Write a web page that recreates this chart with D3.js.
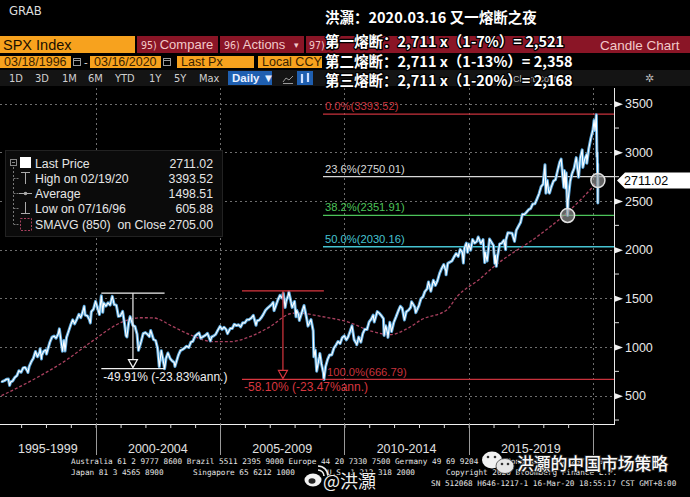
<!DOCTYPE html>
<html><head><meta charset="utf-8">
<script src="https://cdn.jsdelivr.net/npm/d3@7"></script>
<style>
html,body{margin:0;padding:0;background:#000;overflow:hidden;}
svg{display:block;font-family:"Liberation Sans",Arial,sans-serif;}
</style></head><body>
<svg id="c" width="690" height="497"></svg>
<script>
// ---------------- DATA ----------------
const spx = [
["1996-03-18",652.7],["1996-03-29",645.5],["1996-04-30",654.2],["1996-05-31",669.1],["1996-06-28",670.6],["1996-07-16",605.9],["1996-07-31",639.9],["1996-08-30",652.0],["1996-09-30",687.3],["1996-10-31",705.3],["1996-11-29",757.0],["1996-12-31",740.7],
["1997-01-31",786.2],["1997-02-28",790.8],["1997-03-31",757.1],["1997-04-11",737.7],["1997-04-30",801.3],["1997-05-30",848.3],["1997-06-30",885.1],["1997-07-31",954.3],["1997-08-29",899.5],["1997-09-30",947.3],["1997-10-07",983.1],["1997-10-27",877.0],["1997-10-31",914.6],["1997-11-28",955.4],["1997-12-31",970.4],
["1998-01-09",927.7],["1998-01-30",980.3],["1998-02-27",1049.3],["1998-03-31",1101.8],["1998-04-30",1111.8],["1998-05-29",1090.8],["1998-06-30",1133.8],["1998-07-17",1186.8],["1998-08-31",957.3],["1998-09-23",1066.1],["1998-10-08",959.4],["1998-10-30",1098.7],["1998-11-30",1163.6],["1998-12-31",1229.2],
["1999-01-29",1279.6],["1999-02-26",1238.3],["1999-03-31",1286.4],["1999-04-30",1335.2],["1999-05-28",1301.8],["1999-06-30",1372.7],["1999-07-16",1418.8],["1999-07-30",1328.7],["1999-08-31",1320.4],["1999-09-30",1282.7],["1999-10-15",1247.4],["1999-10-29",1362.9],["1999-11-30",1389.0],["1999-12-31",1469.3],
["2000-01-31",1394.5],["2000-02-25",1333.4],["2000-03-24",1527.5],["2000-04-14",1356.6],["2000-04-28",1452.4],["2000-05-31",1420.6],["2000-06-30",1454.6],["2000-07-31",1430.8],["2000-09-01",1520.8],["2000-09-29",1436.5],["2000-10-31",1429.4],["2000-11-30",1315.2],["2000-12-29",1320.3],
["2001-01-31",1366.0],["2001-02-28",1239.9],["2001-03-22",1117.6],["2001-04-04",1103.3],["2001-04-30",1249.5],["2001-05-21",1312.8],["2001-06-29",1224.4],["2001-07-31",1211.2],["2001-08-31",1133.6],["2001-09-21",965.8],["2001-10-31",1059.8],["2001-11-30",1139.5],["2001-12-31",1148.1],
["2002-01-31",1130.2],["2002-02-28",1106.7],["2002-03-19",1170.3],["2002-04-30",1076.9],["2002-05-31",1067.1],["2002-06-28",989.8],["2002-07-23",797.7],["2002-08-22",962.7],["2002-09-30",815.3],["2002-10-09",776.8],["2002-10-31",885.8],["2002-11-27",938.9],["2002-12-31",879.8],
["2003-01-31",855.7],["2003-02-28",841.2],["2003-03-11",800.7],["2003-03-31",848.2],["2003-04-30",916.9],["2003-05-30",963.6],["2003-06-30",974.5],["2003-07-31",990.3],["2003-08-29",1008.0],["2003-09-30",996.0],["2003-10-31",1050.7],["2003-11-28",1058.2],["2003-12-31",1111.9],
["2004-01-30",1131.1],["2004-02-27",1144.9],["2004-03-24",1091.3],["2004-04-30",1107.3],["2004-05-31",1120.7],["2004-06-30",1140.8],["2004-08-12",1063.2],["2004-08-31",1104.2],["2004-09-30",1114.6],["2004-10-29",1130.2],["2004-11-30",1173.8],["2004-12-31",1211.9],
["2005-01-31",1181.3],["2005-02-28",1203.6],["2005-03-31",1180.6],["2005-04-20",1137.5],["2005-05-31",1191.5],["2005-06-30",1191.3],["2005-07-29",1234.2],["2005-08-31",1220.3],["2005-09-30",1228.8],["2005-10-31",1207.0],["2005-11-30",1249.5],["2005-12-30",1248.3],
["2006-01-31",1280.1],["2006-02-28",1280.7],["2006-03-31",1294.9],["2006-05-05",1325.8],["2006-06-13",1223.7],["2006-06-30",1270.2],["2006-07-31",1276.7],["2006-08-31",1303.8],["2006-09-29",1335.9],["2006-10-31",1377.9],["2006-11-30",1400.6],["2006-12-29",1418.3],
["2007-01-31",1438.2],["2007-02-20",1459.7],["2007-03-05",1374.1],["2007-03-30",1420.9],["2007-04-30",1482.4],["2007-05-31",1530.6],["2007-06-29",1503.4],["2007-07-19",1553.1],["2007-08-15",1406.7],["2007-08-31",1474.0],["2007-09-28",1526.8],["2007-10-09",1565.2],["2007-11-26",1407.2],["2007-12-31",1468.4],
["2008-01-22",1310.5],["2008-01-31",1378.6],["2008-02-29",1330.6],["2008-03-10",1273.4],["2008-04-30",1385.6],["2008-05-19",1426.6],["2008-06-30",1280.0],["2008-07-15",1214.9],["2008-08-29",1282.8],["2008-09-30",1166.4],["2008-10-10",899.2],["2008-10-31",968.8],["2008-11-20",752.4],["2008-12-31",903.3],
["2009-01-06",934.7],["2009-01-30",825.9],["2009-02-27",735.1],["2009-03-06",666.8],["2009-03-31",797.9],["2009-04-30",872.8],["2009-05-29",919.1],["2009-06-30",919.3],["2009-07-31",987.5],["2009-08-31",1020.6],["2009-09-30",1057.1],["2009-10-30",1036.2],["2009-11-30",1095.6],["2009-12-31",1115.1],
["2010-01-29",1073.9],["2010-02-26",1104.5],["2010-03-31",1169.4],["2010-04-23",1217.3],["2010-05-25",1074.0],["2010-06-30",1030.7],["2010-07-02",1022.6],["2010-07-30",1101.6],["2010-08-31",1049.3],["2010-09-30",1141.2],["2010-10-29",1183.3],["2010-11-30",1180.6],["2010-12-31",1257.6],
["2011-01-31",1286.1],["2011-02-28",1327.2],["2011-03-16",1256.9],["2011-04-29",1363.6],["2011-05-31",1345.2],["2011-06-30",1320.6],["2011-07-29",1292.3],["2011-08-08",1119.5],["2011-08-31",1218.9],["2011-09-30",1131.4],["2011-10-03",1099.2],["2011-10-31",1253.3],["2011-11-25",1158.7],["2011-12-30",1257.6],
["2012-01-31",1312.4],["2012-02-29",1365.7],["2012-04-02",1419.0],["2012-04-30",1397.9],["2012-06-01",1278.0],["2012-06-29",1362.2],["2012-07-31",1379.3],["2012-08-31",1406.6],["2012-09-14",1465.8],["2012-10-31",1412.2],["2012-11-15",1353.3],["2012-12-31",1426.2],
["2013-01-31",1498.1],["2013-02-28",1514.7],["2013-03-28",1569.2],["2013-04-30",1597.6],["2013-05-21",1669.2],["2013-06-24",1573.1],["2013-07-31",1685.7],["2013-08-30",1633.0],["2013-09-30",1681.6],["2013-10-31",1756.5],["2013-11-29",1805.8],["2013-12-31",1848.4],
["2014-01-31",1782.6],["2014-02-03",1741.9],["2014-02-28",1859.5],["2014-03-31",1872.3],["2014-04-30",1884.0],["2014-05-30",1923.6],["2014-06-30",1960.2],["2014-07-31",1930.7],["2014-08-29",2003.4],["2014-09-30",1972.3],["2014-10-15",1862.5],["2014-10-31",2018.1],["2014-11-28",2067.6],["2014-12-16",1972.7],["2014-12-31",2058.9],
["2015-01-30",1995.0],["2015-02-27",2104.5],["2015-03-31",2067.9],["2015-04-30",2085.5],["2015-05-21",2130.8],["2015-06-30",2063.1],["2015-07-31",2103.8],["2015-08-25",1867.6],["2015-08-31",1972.2],["2015-09-29",1884.1],["2015-10-30",2079.4],["2015-11-03",2109.8],["2015-12-31",2043.9],
["2016-01-20",1859.3],["2016-01-29",1940.2],["2016-02-11",1829.1],["2016-02-29",1932.2],["2016-03-31",2059.7],["2016-04-29",2065.3],["2016-05-31",2096.9],["2016-06-27",2000.5],["2016-06-30",2098.9],["2016-07-29",2173.6],["2016-08-31",2171.0],["2016-09-30",2168.3],["2016-11-04",2085.2],["2016-11-30",2198.8],["2016-12-30",2238.8],
["2017-01-31",2278.9],["2017-02-28",2363.6],["2017-03-31",2362.7],["2017-04-28",2384.2],["2017-05-31",2411.8],["2017-06-30",2423.4],["2017-07-31",2470.3],["2017-08-31",2471.7],["2017-09-29",2519.4],["2017-10-31",2575.3],["2017-11-30",2647.6],["2017-12-29",2673.6],
["2018-01-26",2872.9],["2018-02-08",2581.0],["2018-02-28",2713.8],["2018-03-23",2588.3],["2018-04-02",2581.9],["2018-04-30",2648.1],["2018-05-31",2705.3],["2018-06-29",2718.4],["2018-07-31",2816.3],["2018-08-31",2901.5],["2018-09-20",2930.8],["2018-10-29",2641.3],["2018-11-07",2813.9],["2018-11-23",2632.6],["2018-12-03",2790.4],["2018-12-24",2351.1],["2018-12-31",2506.9],
["2019-01-31",2704.1],["2019-02-28",2784.5],["2019-03-29",2834.4],["2019-04-30",2945.8],["2019-06-03",2744.5],["2019-06-28",2941.8],["2019-07-26",3025.9],["2019-08-05",2844.7],["2019-08-30",2926.5],["2019-09-30",2976.7],["2019-10-02",2887.6],["2019-10-31",3037.6],["2019-11-29",3141.0],["2019-12-31",3230.8],
["2020-01-17",3329.6],["2020-01-31",3225.5],["2020-02-19",3386.2],["2020-02-28",2954.2],["2020-03-03",3003.4],["2020-03-09",2746.6],["2020-03-10",2882.2],["2020-03-12",2480.6],["2020-03-13",2711.0]
];
const smavg = [
["1996-03-18",500],["1997-06-25",664],["1998-11-05",870],["1999-10-12",1045],["2001-02-06",1260],["2001-10-20",1301],["2002-04-20",1300],["2003-02-10",1209],["2003-10-15",1127],["2004-09-20",1055],["2005-05-25",1055],["2006-03-15",1106],["2007-01-05",1209],["2007-10-27",1342],["2008-02-05",1350],["2009-02-20",1311],["2010-03-25",1250],["2011-01-01",1170],["2011-11-03",1127],["2012-08-08",1200],["2013-02-06",1281],["2014-02-17",1384],["2014-07-13",1517],["2015-06-14",1700],["2016-01-23",1836],["2017-10-01",2134],["2018-12-17",2380],["2020-01-01",2648],["2020-03-13",2705]
];
const fibLabels = ["0.0%","23.6%","38.2%","50.0%","100.0%"];
const fibValues = [3393.52,2750.01,2351.91,2030.16,666.79];
const yMajorTicks = [500,1000,1500,2000,2500,3000,3500];
const yMinorTicks = [250,750,1250,1750,2250,2750,3250];
const periodLabels = ["1995-1999","2000-2004","2005-2009","2010-2014","2015-2019"];
const periodBounds = ["1995-01-01","2000-01-01","2005-01-01","2010-01-01","2015-01-01","2020-01-01"];
const ddStarts = ["2000-03-24","2005-11-19"];
const ddEnds = ["2002-10-09","2009-03-06"];
const ddHighs = [1552.87,1576.09];
const ddLows = [777.8,666.79];
const ddTexts = ["-49.91% (-23.83%ann.)","-58.10% (-23.47%ann.)"];
const legendNames = ["Last Price","High on 02/19/20","Average","Low on 07/16/96","SMAVG (850)  on Close"];
const legendValues = ["2711.02","3393.52","1498.51","605.88","2705.00"];
const lastPrice = 2711.02;
const markerDates = ["2018-12-24","2020-03-13"];
const markerValues = [2351.91,2711.02];
const headlines = ["洪灝：2020.03.16 又一熔断之夜","第一熔断：2,711 x（1-7%）= 2,521","第二熔断：2,711 x（1-13%）= 2,358","第三熔断：2,711 x（1-20%）= 2,168"];
const periodButtons = ["1D","3D","1M","6M","YTD","1Y","5Y","Max"];

// ---------------- CHART ----------------
const svg = d3.select("#c");
const P = d3.utcParse("%Y-%m-%d");
const x = d3.scaleUtc().domain([P("1996-01-01"), P("2020-01-01")]).range([-3.8, 593]);
const y = d3.scaleLinear().domain([500, 3500]).range([395.7, 103.7]);
const AX = 614, AY = 424, TOP = 88;

svg.append("rect").attr("width",690).attr("height",497).attr("fill","#000");
svg.append("defs").append("clipPath").attr("id","plot").append("rect")
  .attr("x",0).attr("y",TOP).attr("width",AX).attr("height",AY-TOP);

// grid
const grid = svg.append("g").attr("stroke","#8a8a8a").attr("stroke-dasharray","2,3").attr("stroke-width",1).attr("opacity",0.8);
grid.selectAll("line.h").data(yMajorTicks).join("line")
  .attr("x1",0).attr("x2",AX).attr("y1",d=>Math.round(y(d))+0.5).attr("y2",d=>Math.round(y(d))+0.5);
grid.selectAll("line.v").data(periodBounds.slice(1)).join("line")
  .attr("x1",d=>Math.round(x(P(d)))+0.5).attr("x2",d=>Math.round(x(P(d)))+0.5).attr("y1",TOP).attr("y2",AY);

const plot = svg.append("g").attr("clip-path","url(#plot)");

// fib lines
const fibColors = ["#c8323c","#d8d8d8","#4cc35a","#46c3d2","#c8323c"];
fibValues.forEach((v,i)=>{
  const x0 = i===4 ? x(P(ddEnds[1])) : 323;
  plot.append("line").attr("x1",x0).attr("x2",AX).attr("y1",y(v)).attr("y2",y(v))
    .attr("stroke",fibColors[i]).attr("stroke-width",1.3);
  plot.append("text").attr("x", i===4?327:325).attr("y", y(v)-(i===4?3:4))
    .attr("fill",fibColors[i]).attr("font-size",11.2)
    .text(fibLabels[i]+"("+d3.format(".2f")(v)+")");
});

// moving average
plot.append("path").datum(smavg)
  .attr("d", d3.line().curve(d3.curveMonotoneX).x(d=>x(P(d[0]))).y(d=>y(d[1])))
  .attr("fill","none").attr("stroke","#a8405e").attr("stroke-width",1.3).attr("stroke-dasharray","3,2");

// price
const pline = d3.line().x(d=>x(P(d[0]))).y(d=>y(d[1]));
plot.append("path").datum(spx).attr("d",pline).attr("fill","none")
  .attr("stroke","#5aa8dc").attr("stroke-width",3).attr("stroke-linejoin","round");
plot.append("path").datum(spx).attr("d",pline).attr("fill","none")
  .attr("stroke","#ffffff").attr("stroke-width",1.1).attr("stroke-linejoin","round");

// drawdown annotations
const ddColors = ["#f0f0f0","#d8363f"];
ddStarts.forEach((s,i)=>{
  const x0 = x(P(s)), x1 = x(P(ddEnds[i])), xm = (x0+x1)/2;
  const yh = y(ddHighs[i]), yl = y(ddLows[i]);
  const g = plot.append("g").attr("stroke",ddColors[i]).attr("fill","none").attr("stroke-width",1.2);
  g.append("line").attr("x1",x0).attr("x2",x1).attr("y1",yh).attr("y2",yh);
  g.append("line").attr("x1",x0).attr("x2",x1).attr("y1",yl).attr("y2",yl);
  g.append("line").attr("x1",xm).attr("x2",xm).attr("y1",yh).attr("y2",yl-9);
  g.append("path").attr("d",`M${xm-4.5},${yl-9}L${xm+4.5},${yl-9}L${xm},${yl-1}Z`);
  plot.append("text").attr("x",x0+2).attr("y",yl+12).attr("fill",ddColors[i])
    .attr("font-size",12).text(ddTexts[i]);
});

// markers
markerDates.forEach((d,i)=>{
  plot.append("circle").attr("cx",x(P(d))).attr("cy",y(markerValues[i])).attr("r",7)
    .attr("fill","#9a9a9a").attr("fill-opacity",0.65).attr("stroke","#e0e0e0").attr("stroke-width",1.5);
});

// axes
svg.append("line").attr("x1",AX+0.5).attr("x2",AX+0.5).attr("y1",TOP).attr("y2",AY).attr("stroke","#e8e8e8");
svg.append("line").attr("x1",0).attr("x2",AX+1).attr("y1",AY+0.5).attr("y2",AY+0.5).attr("stroke","#f0f0f0").attr("stroke-width",1.2);

const yAxis = svg.append("g").attr("transform",`translate(${AX},0)`)
  .call(d3.axisRight(y).tickValues(yMajorTicks).tickSize(0).tickPadding(11).tickFormat(d3.format("d")));
yAxis.select(".domain").remove();
yAxis.selectAll("text").attr("fill","#e8e8e8").attr("font-size",12.5).attr("font-family","Liberation Sans, Arial");
yAxis.selectAll(".tick").append("path").attr("d","M1,-3L9,0L1,3Z").attr("fill","#f0f0f0");
svg.append("g").selectAll("line").data(yMinorTicks).join("line")
  .attr("x1",AX).attr("x2",AX+5).attr("y1",d=>y(d)).attr("y2",d=>y(d)).attr("stroke","#ddd");

const years = d3.utcYears(P("1996-01-01"), P("2020-06-01"));
const xAxis = svg.append("g").attr("transform",`translate(0,${AY})`)
  .call(d3.axisBottom(x).tickValues(years).tickSize(4).tickFormat(""));
xAxis.select(".domain").remove();
xAxis.selectAll("line").attr("stroke","#ddd");
svg.append("g").selectAll("line").data(periodBounds.slice(1)).join("line")
  .attr("x1",d=>Math.round(x(P(d)))+0.5).attr("x2",d=>Math.round(x(P(d)))+0.5)
  .attr("y1",AY).attr("y2",455).attr("stroke","#9a9a9a");
svg.append("g").selectAll("text").data(periodLabels).join("text")
  .attr("x",(d,i)=>(Math.max(0,x(P(periodBounds[i])))+x(P(periodBounds[i+1])))/2)
  .attr("y",453).attr("text-anchor","middle").attr("fill","#e0e0e0").attr("font-size",12.5).text(d=>d);

// last price tag
const yl = y(lastPrice);
svg.append("path").attr("d",`M617,${yl}L625,${yl-8}L690,${yl-8}L690,${yl+8}L625,${yl+8}Z`).attr("fill","#fff");
svg.append("text").attr("x",624).attr("y",yl+4.5).attr("fill","#000").attr("font-size",12.5).text(d3.format(".2f")(lastPrice));

// legend
const lg = svg.append("g");
lg.append("rect").attr("x",5.5).attr("y",150.5).attr("width",217).attr("height",86).attr("fill","#0b0b0b").attr("stroke","#222");
const rowY = [163,178,193,208,224];
lg.append("line").attr("x1",13.5).attr("x2",13.5).attr("y1",167).attr("y2",rowY[4]).attr("stroke","#777").attr("stroke-dasharray","2,2");
rowY.slice(1).forEach(r=>lg.append("line").attr("x1",13.5).attr("x2",19).attr("y1",r+0.5).attr("y2",r+0.5).attr("stroke","#777").attr("stroke-dasharray","2,1"));
lg.append("rect").attr("x",10.5).attr("y",159.5).attr("width",6).attr("height",6).attr("fill","none").attr("stroke","#888");
lg.append("line").attr("x1",12).attr("x2",15).attr("y1",162.5).attr("y2",162.5).attr("stroke","#888");
lg.append("rect").attr("x",20).attr("y",157).attr("width",11).attr("height",11).attr("fill","#fff");
lg.append("path").attr("d","M21,172.5H30M25.5,172.5V184").attr("stroke","#aaa").attr("fill","none");
lg.append("path").attr("d","M19,193.5H32").attr("stroke","#aaa");
lg.append("circle").attr("cx",25.5).attr("cy",193.5).attr("r",1.8).attr("fill","#aaa");
lg.append("path").attr("d","M21,213.5H30M25.5,213.5V202").attr("stroke","#aaa").attr("fill","none");
lg.append("rect").attr("x",20.5).attr("y",218.5).attr("width",11).attr("height",12).attr("fill","none").attr("stroke","#a8405e").attr("stroke-dasharray","2,1.5");
legendNames.forEach((n,i)=>{
  lg.append("text").attr("x",35).attr("y",rowY[i]+4.5).attr("fill","#e6e6e6").attr("font-size",12.3).attr("xml:space","preserve").text(n);
  lg.append("text").attr("x",213).attr("y",rowY[i]+4.5).attr("text-anchor","end").attr("fill","#e6e6e6").attr("font-size",12.3).text(legendValues[i]);
});

// ---------------- HEADER ----------------
const h = svg.append("g");
h.append("rect").attr("x",0).attr("y",0).attr("width",690).attr("height",TOP).attr("fill","#000");
h.append("text").attr("x",9).attr("y",15).attr("fill","#dcdcdc").attr("font-size",13).attr("font-family","DejaVu Sans Condensed, sans-serif").text("GRAB");
// row 1
const ORANGE = "#f7a21e", RED = "#8a1526";
h.append("rect").attr("x",0).attr("y",36).attr("width",135).attr("height",17).attr("fill",ORANGE);
h.append("text").attr("x",3).attr("y",49.5).attr("fill","#1a1000").attr("font-size",14.5).text("SPX Index");
h.append("rect").attr("x",137).attr("y",36).attr("width",81).attr("height",17).attr("fill",RED);
h.append("rect").attr("x",220).attr("y",36).attr("width",84).attr("height",17).attr("fill",RED);
h.append("rect").attr("x",306).attr("y",36).attr("width",384).attr("height",17).attr("fill",RED);
const btn = (x0,num,label)=>{
  const t = h.append("text").attr("x",x0).attr("y",49).attr("fill","#f2c9c9").attr("font-size",13);
  t.append("tspan").attr("font-size",10.5).attr("font-family","DejaVu Sans Condensed, sans-serif").text(num);
  t.append("tspan").attr("dx",3).text(label);
};
btn(141,"95)","Compare");
btn(224,"96)","Actions");
h.append("text").attr("x",294).attr("y",48).attr("fill","#f2c9c9").attr("font-size",9).text("▾");
h.append("text").attr("x",309).attr("y",49).attr("fill","#f2c9c9").attr("font-size",10.5).attr("font-family","DejaVu Sans Condensed, sans-serif").text("97)");
h.append("text").attr("x",600).attr("y",49.5).attr("fill","#f2c9c9").attr("font-size",13.5).text("Candle Chart");
// row 2
const obox = (x0,w,label)=>{
  h.append("rect").attr("x",x0).attr("y",56).attr("width",w).attr("height",12).attr("fill",ORANGE);
  h.append("text").attr("x",x0+4).attr("y",66.3).attr("fill","#3a2200").attr("font-size",12.5).text(label);
};
obox(0,71,"03/18/1996"); obox(90,71,"03/16/2020"); obox(177,77,"Last Px"); obox(258,64,"Local CCY");
[73,163].forEach(cx=>{
  h.append("rect").attr("x",cx+0.5).attr("y",58.5).attr("width",7).attr("height",7).attr("fill","none").attr("stroke","#9a9a9a");
  h.append("line").attr("x1",cx).attr("x2",cx+8).attr("y1",60.5).attr("y2",60.5).attr("stroke","#9a9a9a");
});
h.append("text").attr("x",84).attr("y",66).attr("fill","#ddd").attr("font-size",11).text("-");
// row 3
h.append("rect").attr("x",0).attr("y",70).attr("width",690).attr("height",16).attr("fill","#141414");
const bx = [9,35,62,88,115,149,174,199];
periodButtons.forEach((b,i)=>h.append("text").attr("x",bx[i]).attr("y",82).attr("fill","#cfcfcf").attr("font-size",11).attr("font-family","DejaVu Sans Condensed, sans-serif").text(b));
h.append("rect").attr("x",228).attr("y",71).attr("width",44).attr("height",14).attr("fill","#1f5fb0");
h.append("text").attr("x",232).attr("y",82).attr("fill","#e8f0ff").attr("font-size",11.5).attr("font-weight","bold").text("Daily ▼");
h.append("path").attr("d","M283,82L286,78L289,80L293,76M283,83.5H293").attr("stroke","#999").attr("fill","none");
h.append("rect").attr("x",297).attr("y",71).attr("width",16).attr("height",14).attr("fill","#1f5fb0");
h.append("path").attr("d","M302,74V83M308,73V82").attr("stroke","#cfe0ff").attr("stroke-width",2.2);
h.append("text").attr("x",513).attr("y",82).attr("fill","#bbb").attr("font-size",9).text("Chart Content");
h.append("text").attr("x",645).attr("y",82).attr("fill","#bbb").attr("font-size",11).text("✲");

// Chinese overlay
const hy = [23,47,66.5,86];
headlines.forEach((t,i)=>{
  h.append("text").attr("x",325).attr("y",hy[i]).attr("fill","#fff").attr("stroke","#000").attr("stroke-width",2.6)
    .attr("paint-order","stroke").attr("stroke-linejoin","round")
    .attr("font-family","Noto Sans CJK SC, sans-serif").attr("font-weight","bold").attr("font-size",14.5).text(t);
});

// ---------------- FOOTER ----------------
const f = svg.append("g").attr("fill","#e4e4e4").attr("font-family","DejaVu Sans Mono, monospace").attr("font-size",7.7);
f.append("text").attr("x",71).attr("y",464).text("Australia 61 2 9777 8600 Brazil 5511 2395 9000 Europe 44 20 7330 7500 Germany 49 69 9204 1210 Hong Kong 852 2977 6000");
f.append("text").attr("x",71).attr("y",475).text("Japan 81 3 4565 8900");
f.append("text").attr("x",193).attr("y",475).text("Singapore 65 6212 1000");
f.append("text").attr("x",327).attr("y",475).text("U.S. 1 212 318 2000");
f.append("text").attr("x",446).attr("y",475).text("Copyright 2020 Bloomberg Finance L.P.");
f.append("text").attr("x",431).attr("y",486).text("SN 512068 H646-1217-1 16-Mar-20 18:55:17 CST  GMT+8:00");

// watermarks
const w = svg.append("g");
w.append("ellipse").attr("cx",313).attr("cy",480).attr("rx",8.5).attr("ry",6.5).attr("fill","#f2f2f2");
w.append("ellipse").attr("cx",312).attr("cy",481).attr("rx",3.5).attr("ry",2.8).attr("fill","#222");
w.append("path").attr("d","M318,470A6,6 0 0 1 324,476M318,466A10,10 0 0 1 328,476").attr("stroke","#eee").attr("stroke-width",1.6).attr("fill","none");
w.append("text").attr("x",323).attr("y",488).attr("fill","#f0f0f0").attr("stroke","#000").attr("stroke-width",1.5).attr("paint-order","stroke")
  .attr("font-family","Noto Sans CJK SC, sans-serif").attr("font-size",18).text("@洪灝");
w.append("ellipse").attr("cx",492).attr("cy",460).attr("rx",10).attr("ry",8.5).attr("fill","#f2f2f2");
w.append("ellipse").attr("cx",505).attr("cy",466).attr("rx",9).attr("ry",7.5).attr("fill","#e6e6e6").attr("stroke","#444").attr("stroke-width",0.8);
[[488,457],[495,457],[502,464],[508,464]].forEach(p=>w.append("circle").attr("cx",p[0]).attr("cy",p[1]).attr("r",1.3).attr("fill","#333"));
w.append("text").attr("x",517).attr("y",470).attr("fill","#fafafa").attr("stroke","#222").attr("stroke-width",2).attr("paint-order","stroke")
  .attr("font-family","Noto Sans CJK SC, sans-serif").attr("font-size",16.8).attr("font-weight","500").text("洪灝的中国市场策略");
</script>
</body></html>
